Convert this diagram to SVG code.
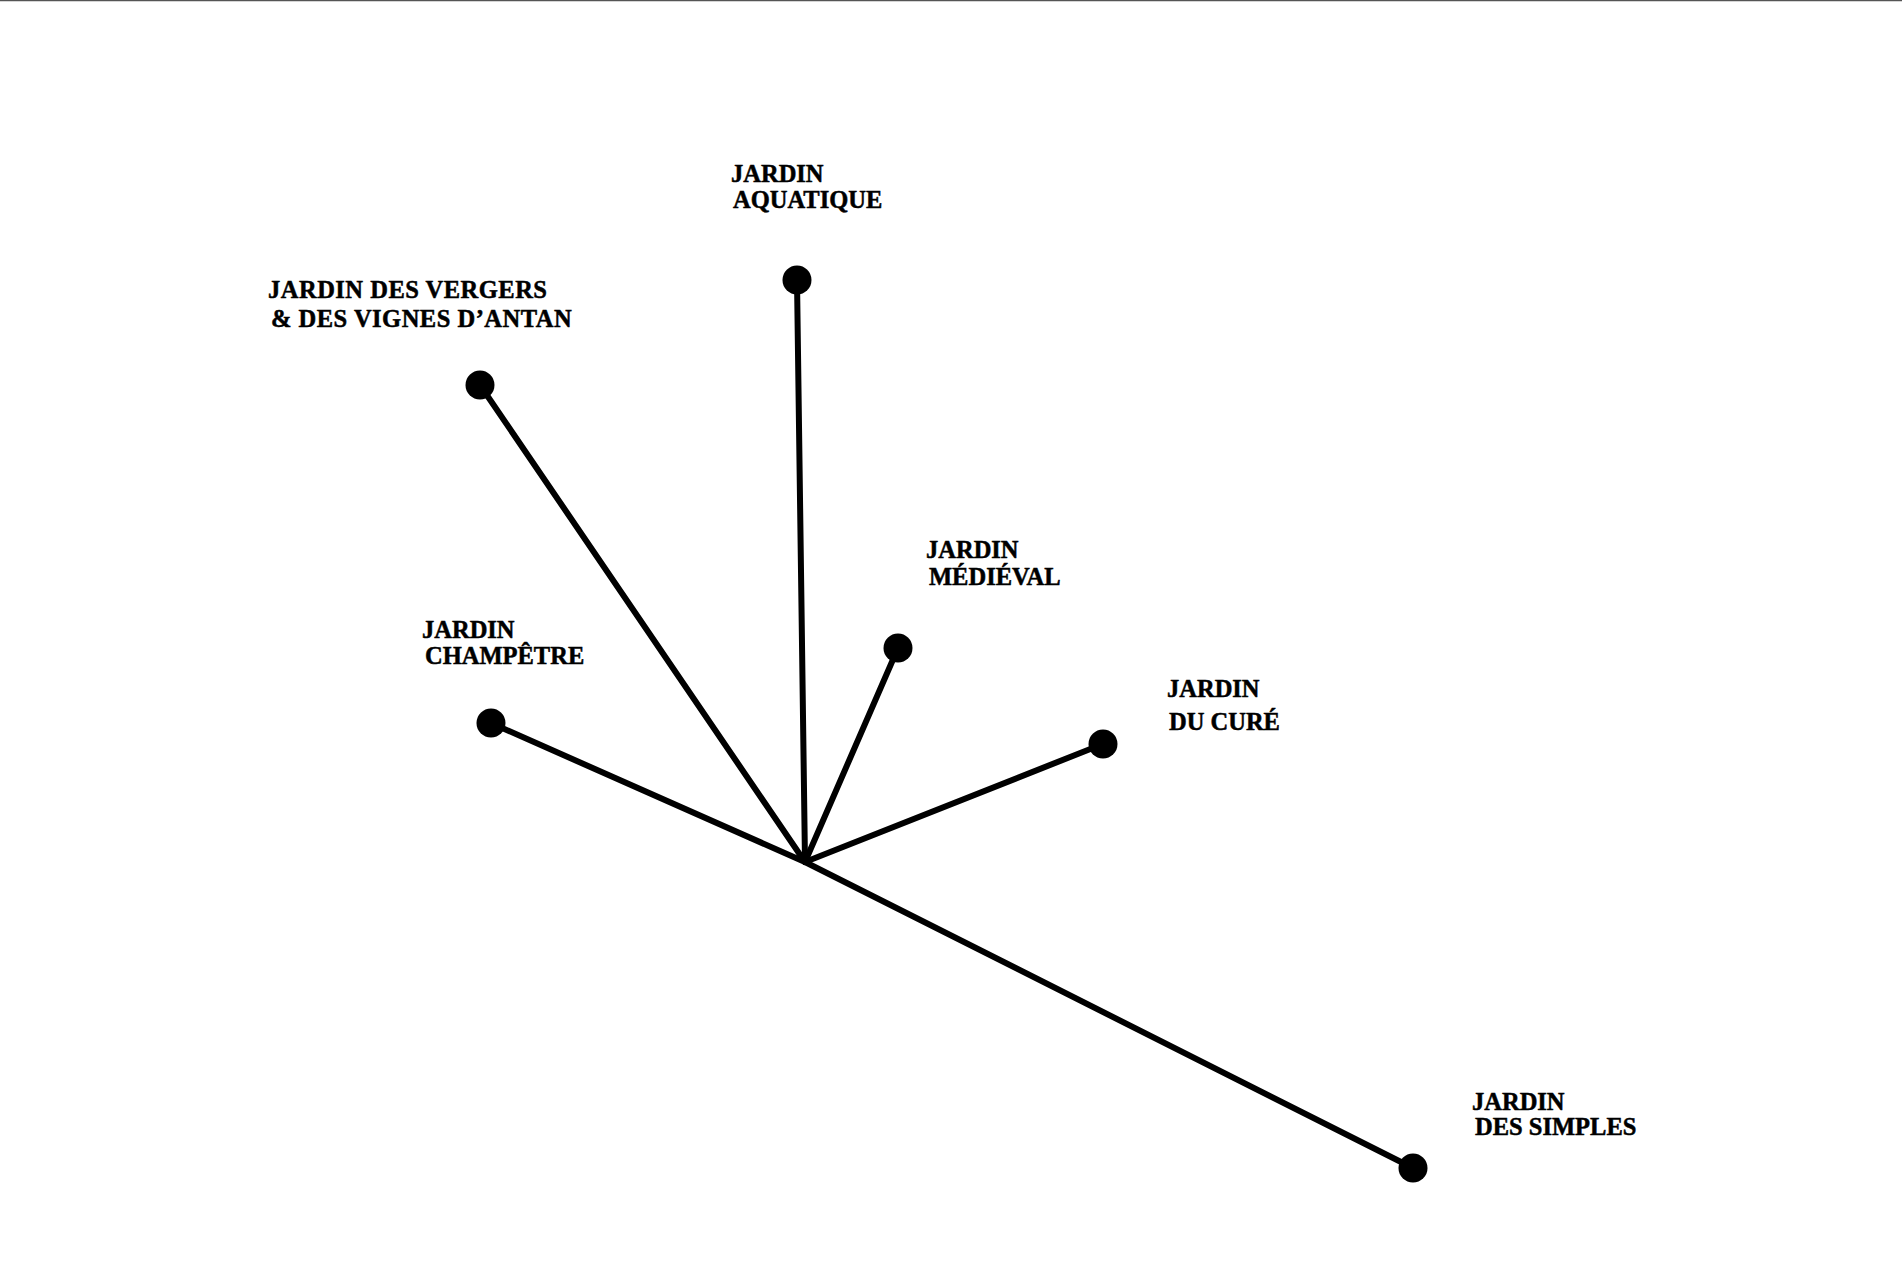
<svg xmlns="http://www.w3.org/2000/svg" width="1902" height="1268" viewBox="0 0 1902 1268">
<style>
.lbl{font-family:"Liberation Serif","Times New Roman",serif;font-weight:bold;font-size:24.5px;fill:#000;stroke:#000;stroke-width:0.5}
.wide{letter-spacing:0.5px}
.edge{stroke:#000;stroke-width:6;stroke-linecap:round;fill:none}
.dot{fill:#000}
</style>
<rect width="1902" height="1268" fill="#fff"/>
<line x1="0" y1="0.5" x2="1902" y2="0.5" stroke="#555" stroke-width="1.5"/>
<g id="connectors">
<line class="edge" x1="805" y1="862" x2="797" y2="280"/>
<line class="edge" x1="805" y1="862" x2="480" y2="385"/>
<line class="edge" x1="805" y1="862" x2="898" y2="648"/>
<line class="edge" x1="805" y1="862" x2="491" y2="723"/>
<line class="edge" x1="805" y1="862" x2="1103" y2="744"/>
<line class="edge" x1="805" y1="862" x2="1413" y2="1168"/>
</g>
<g id="aquatique">
<circle class="dot" cx="797" cy="280" r="14.5"/>
<text class="lbl" x="731" y="182">JARDIN</text>
<text class="lbl" x="733" y="208">AQUATIQUE</text>
</g>
<g id="vergers">
<circle class="dot" cx="480" cy="385" r="14.5"/>
<text class="lbl wide" x="268" y="298">JARDIN DES VERGERS</text>
<text class="lbl wide" x="271" y="327">&amp; DES VIGNES D’ANTAN</text>
</g>
<g id="medieval">
<circle class="dot" cx="898" cy="648" r="14.5"/>
<text class="lbl" x="926" y="558">JARDIN</text>
<text class="lbl" x="929" y="585">MÉDIÉVAL</text>
</g>
<g id="champetre">
<circle class="dot" cx="491" cy="723" r="14.5"/>
<text class="lbl" x="422" y="638">JARDIN</text>
<text class="lbl" x="425" y="664">CHAMPÊTRE</text>
</g>
<g id="cure">
<circle class="dot" cx="1103" cy="744" r="14.5"/>
<text class="lbl" x="1167" y="697">JARDIN</text>
<text class="lbl" x="1169" y="730">DU CURÉ</text>
</g>
<g id="simples">
<circle class="dot" cx="1413" cy="1168" r="14.5"/>
<text class="lbl" x="1472" y="1110">JARDIN</text>
<text class="lbl" x="1475" y="1135">DES SIMPLES</text>
</g>
</svg>
